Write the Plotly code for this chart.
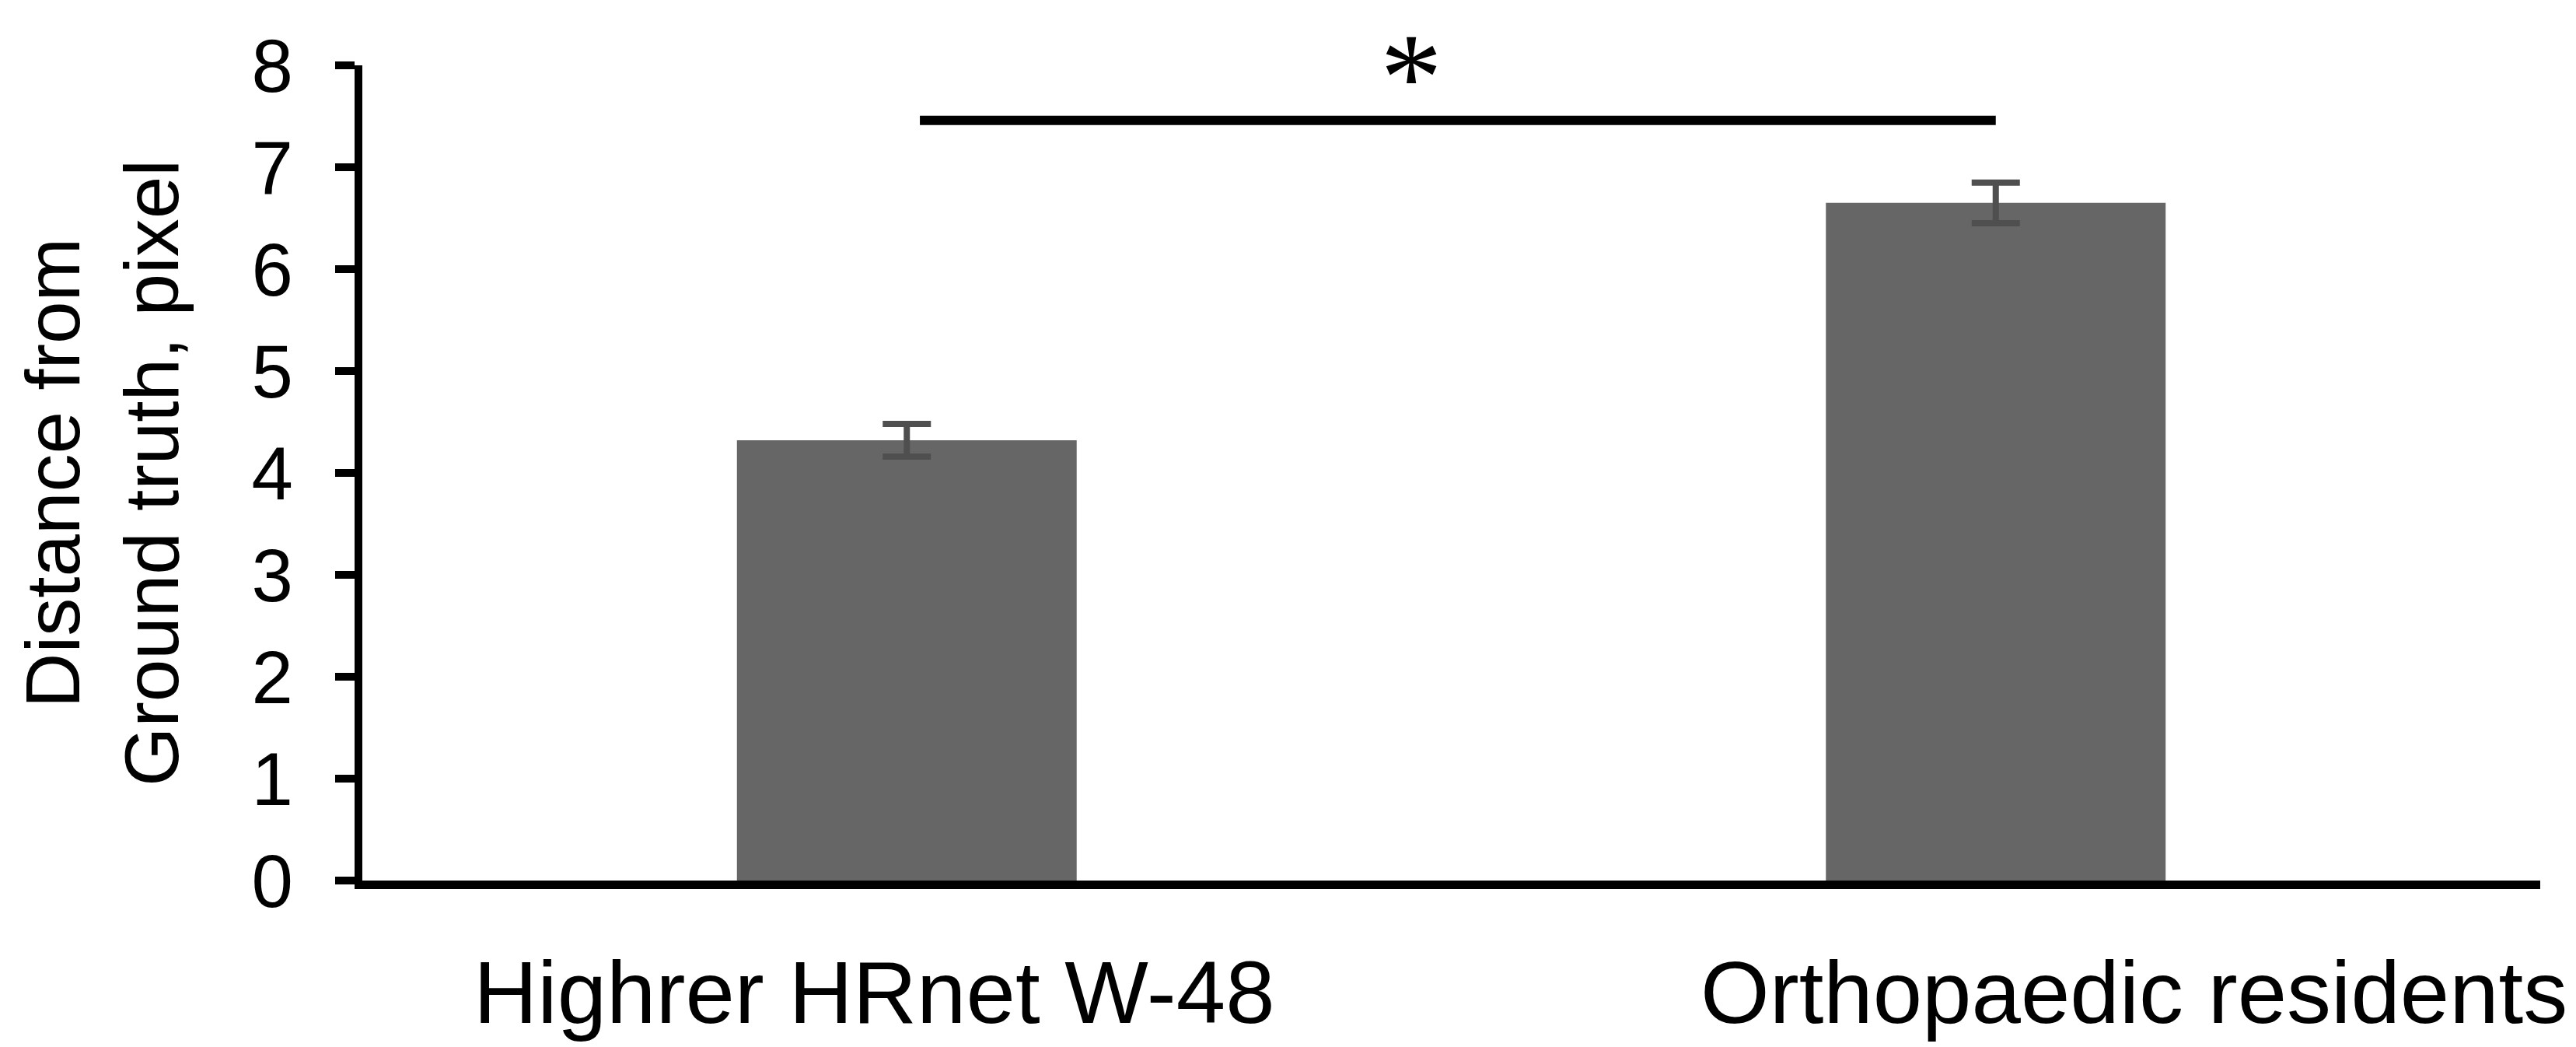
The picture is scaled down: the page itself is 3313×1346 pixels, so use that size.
import plotly.graph_objects as go

# values
groups = ['Highrer HRnet W-48', 'Orthopaedic residents']
mean_dist = [4.32, 6.65]
err_dist = [0.16, 0.20]
y_ticks = [0, 1, 2, 3, 4, 5, 6, 7, 8]
sig_label = '*'
sig_level = 7.46

FONT = 'Liberation Sans, Arial, sans-serif'

bars = go.Bar(
    x=groups,
    y=mean_dist,
    width=0.312,
    marker=dict(color='#666666', line=dict(width=0)),
    error_y=dict(
        type='data',
        array=err_dist,
        visible=True,
        color='#4f4f4f',
        thickness=8,
        width=31,
    ),
    showlegend=False,
)

fig = go.Figure(data=[bars])

# group names drawn as free text under each bar (they sit off-centre in the original)
label_shift = [-0.03, 0.127]
for i, name in enumerate(groups):
    fig.add_annotation(
        x=i + label_shift[i], y=-0.137, xref='x', yref='paper',
        text=name, showarrow=False,
        font=dict(family=FONT, size=114, color='black'),
        xanchor='center', yanchor='middle',
    )

# significance bracket
fig.add_shape(
    type='line', xref='x', yref='y',
    x0=0.012, x1=1.0, y0=sig_level, y1=sig_level,
    line=dict(color='black', width=12),
)
fig.add_annotation(
    x=0.463, y=1.072, xref='x', yref='paper',
    text=sig_label, showarrow=False,
    font=dict(family='Liberation Serif, Times New Roman, serif', size=160, color='black'),
    xanchor='center', yanchor='top', borderpad=0,
)

fig.update_xaxes(
    range=[-0.5, 1.5],
    showline=True, linecolor='black', linewidth=11,
    ticks='', showticklabels=False,
    showgrid=False, zeroline=False,
)
fig.update_yaxes(
    range=[0, 8],
    tickvals=y_ticks,
    showline=True, linecolor='black', linewidth=10,
    ticks='outside', ticklen=25, tickwidth=10, tickcolor='black',
    ticklabelstandoff=35,
    tickfont=dict(family=FONT, size=96, color='black'),
    showgrid=False, zeroline=False,
    title=dict(
        text='Distance from<br>Ground truth, pixel',
        font=dict(family=FONT, size=98, color='black'),
        standoff=65,
    ),
)

fig.update_layout(
    width=3313, height=1346,
    margin=dict(l=458, r=54, t=76, b=222),
    plot_bgcolor='white', paper_bgcolor='white',
    font=dict(family=FONT, color='black'),
)

fig.write_html("out.html")
